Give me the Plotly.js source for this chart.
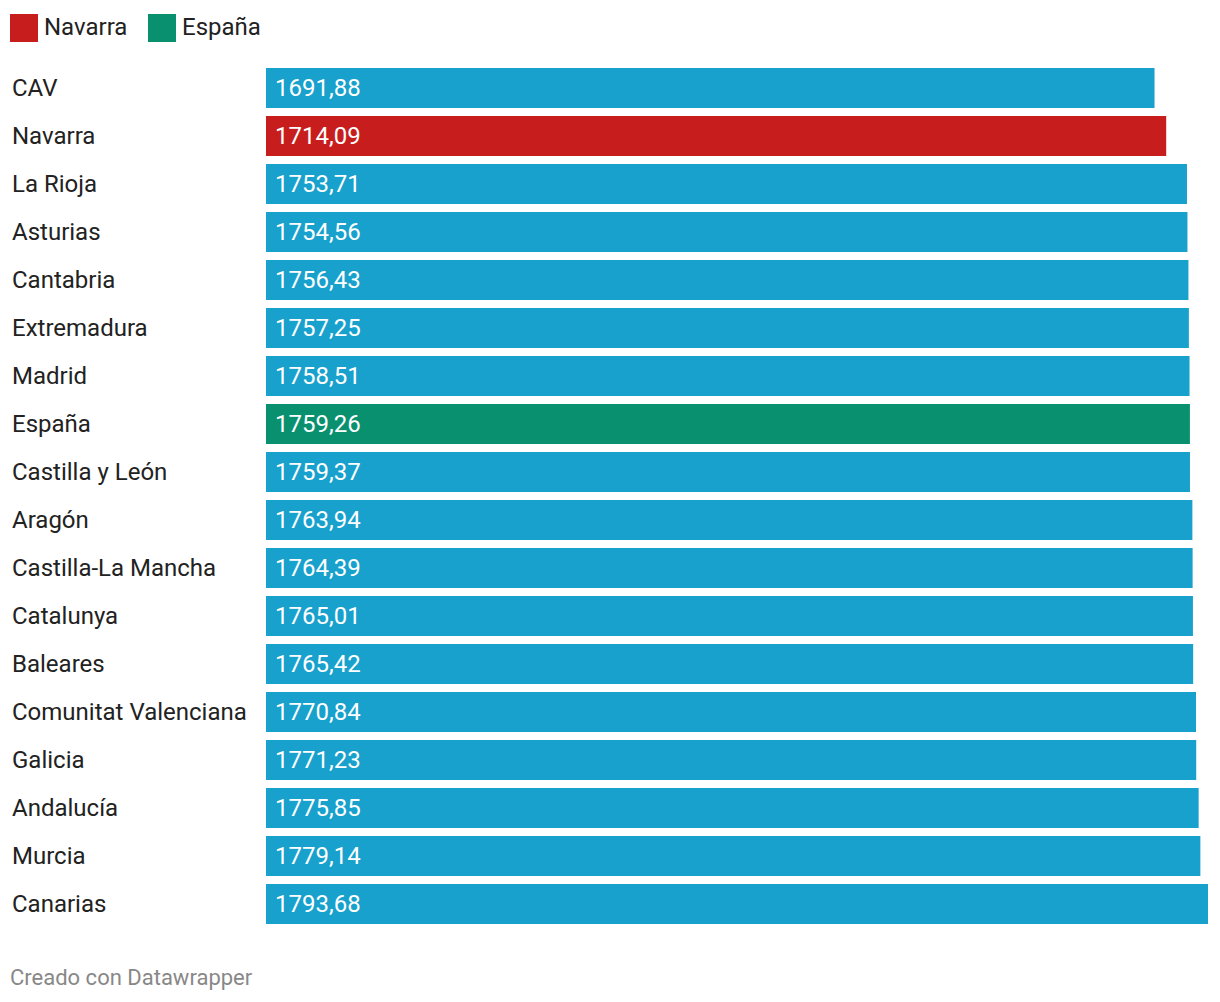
<!DOCTYPE html>
<html>
<head>
<meta charset="utf-8">
<script src="https://cdn.plot.ly/plotly-3.0.1.min.js"></script>
<style>
html,body{margin:0;padding:0;background:#fff;}
#chart{width:1220px;height:1002px;}
</style>
</head>
<body>
<div id="chart"></div>
<script>
const regions = ["CAV","Navarra","La Rioja","Asturias","Cantabria","Extremadura","Madrid","España","Castilla y León","Aragón","Castilla-La Mancha","Catalunya","Baleares","Comunitat Valenciana","Galicia","Andalucía","Murcia","Canarias"];
const values = [1691.88,1714.09,1753.71,1754.56,1756.43,1757.25,1758.51,1759.26,1759.37,1763.94,1764.39,1765.01,1765.42,1770.84,1771.23,1775.85,1779.14,1793.68];
const legendLabels = ["Navarra","España"];
const footer = "Creado con Datawrapper";

const BLUE = "#18a1cd", RED = "#c71e1d", GREEN = "#09916f";
const colors = regions.map(r => r === "Navarra" ? RED : (r === "España" ? GREEN : BLUE));
const fmt = v => v.toFixed(2).replace(".", ",");

const W = 1220, H = 1002, ML = 266, MR = 12, MT = 64, MB = 74;
const PW = W - ML - MR, PH = H - MT - MB;
const px = x => (x - ML) / PW;
const py = y => 1 - (y - MT) / PH;

const annotations = [];
regions.forEach((r, i) => {
  annotations.push({x: px(10), xref: "paper", y: r, yref: "y", text: r, showarrow: false,
    xanchor: "left", yanchor: "middle", font: {family: "Roboto", size: 24, color: "#222"}});
  annotations.push({x: 0, xref: "x", y: r, yref: "y", text: fmt(values[i]), showarrow: false,
    xanchor: "left", yanchor: "middle", xshift: 7, font: {family: "Roboto", size: 24, color: "#fff"}});
});
const shapes = [];
const legendColors = [RED, GREEN];
const legendX = [10, 148];
legendLabels.forEach((l, i) => {
  shapes.push({type: "rect", xref: "paper", yref: "paper", x0: px(legendX[i]), x1: px(legendX[i] + 28),
    y0: py(42), y1: py(14), fillcolor: legendColors[i], line: {width: 0}});
  annotations.push({x: px(legendX[i] + 32), xref: "paper", y: py(27), yref: "paper", text: l, showarrow: false,
    xanchor: "left", yanchor: "middle", font: {family: "Roboto", size: 24, color: "#222"}});
});
annotations.push({x: px(8), xref: "paper", y: py(977), yref: "paper", text: footer, showarrow: false,
  xanchor: "left", yanchor: "middle", font: {family: "Roboto", size: 22, color: "#888"}});

const trace = {type: "bar", orientation: "h", x: values, y: regions, marker: {color: colors}, hoverinfo: "none"};

const layout = {
  width: W, height: H, margin: {l: ML, r: MR, t: MT, b: MB},
  paper_bgcolor: "#fff", plot_bgcolor: "#fff",
  showlegend: false, bargap: 8/48,
  xaxis: {range: [0, 1793.68], visible: false, fixedrange: true},
  yaxis: {autorange: "reversed", showticklabels: false, showgrid: false, zeroline: false, fixedrange: true},
  annotations, shapes
};
Plotly.newPlot("chart", [trace], layout, {displayModeBar: false, staticPlot: true});
</script>
</body>
</html>
